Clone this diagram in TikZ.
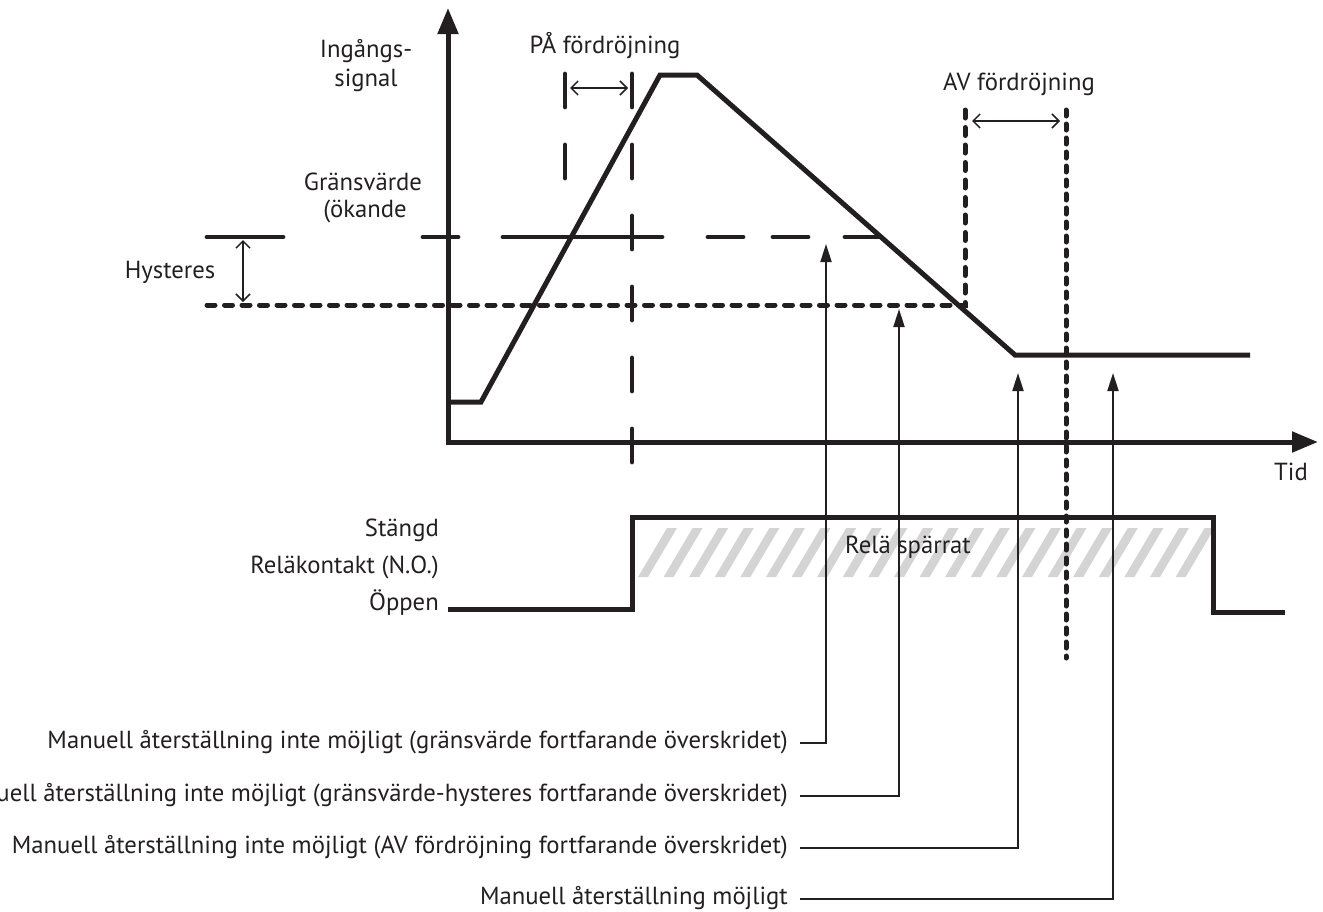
\documentclass[tikz,border=0pt]{standalone}
\usepackage{fontspec}
\setmainfont{PT Sans}
\usetikzlibrary{arrows.meta}
\definecolor{ink}{HTML}{231F20}
\definecolor{hatch}{HTML}{D4D4D4}
\begin{document}
\begin{tikzpicture}[x=1pt,y=-1pt,
  every node/.style={font=\fontsize{24.7}{29}\selectfont, inner sep=0pt, text=ink},
  axisline/.style={draw=ink, line width=5pt, -{Triangle[width=20pt,length=26pt]}},
  sigline/.style={draw=ink, line width=5pt, line join=miter},
  thrline/.style={draw=ink, line width=4.8pt, line cap=round},
  hysline/.style={draw=ink, line width=5pt, line cap=round, dash pattern=on 8pt off 9.5pt},
  avline/.style={draw=ink, line width=5pt, line cap=round, dash pattern=on 6pt off 8pt},
  paline/.style={draw=ink, line width=4.8pt, line cap=round, dash pattern=on 33pt off 38pt},
  dimarrow/.style={draw=ink, line width=1.5pt, {Straight Barb[width=14pt,length=7pt]}-{Straight Barb[width=14pt,length=7pt]}},
  conn/.style={draw=ink, line width=2pt, -{Triangle[width=11pt,length=18pt]}},
  lab/.style={anchor=east, text height=17pt, text depth=6pt},
  stripe/.style={fill=hatch}
]
\useasboundingbox (0,0) rectangle (1323,911);

% hatch of locked relay
\foreach \i in {0,...,21}
  \fill[stripe] ({638+25.6*\i},577) -- ++(10,0) -- ++(29,-49) -- ++(-10,0) -- cycle;

% axes
\draw[axisline] (448,444) -- (448,8);
\draw[axisline] (446,442) -- (1318,442);

% threshold (increasing) line
\draw[thrline] (207,237) -- (283,237);
\draw[thrline] (423,237) -- (458,237);
\draw[thrline] (503,237) -- (662,237);
\draw[thrline] (708,237) -- (743,237);
\draw[thrline] (773,237) -- (808,237);
\draw[thrline] (845,237) -- (880,237);

% hysteresis line and OFF delay
\draw[hysline] (207,305) -- (965,305) -- (965,110);
\draw[avline] (1066,110) -- (1066,658);

% ON delay
\draw[paline] (565,74) -- (565,182);
\draw[paline] (632,74) -- (632,465);

% input signal
\draw[sigline] (448,402) -- (481,402) -- (660,75) -- (697,75) -- (1015,355) -- (1250,355);

% relay contact
\draw[sigline] (448,609) -- (632,609) -- (632,517) -- (1213,517) -- (1213,612) -- (1285,612);

% dimension arrows
\coordinate (pa1) at (570,88);
\coordinate (pa2) at (628,88);
\coordinate (av1) at (972,121);
\coordinate (av2) at (1060,121);
\coordinate (hy1) at (243,240);
\coordinate (hy2) at (243,302);
\draw[dimarrow] (pa1) -- (pa2);
\draw[dimarrow] (av1) -- (av2);
\draw[dimarrow] (hy1) -- (hy2);

% texts
\node[anchor=base] (ing) at (366,57) {Ingångs-};
\node[anchor=base] (sigtxt) at (366,86) {signal};
\node[anchor=base] (gv) at (363,190) {Gränsvärde};
\node[anchor=base] (ok) at (365,217) {(ökande};
\node[anchor=base] (patxt) at (605,53) {PÅ fördröjning};
\node[anchor=base] (avtxt) at (1019,90) {AV fördröjning};
\node[anchor=base] (hys) at (170,278) {Hysteres};
\node[anchor=base] (tid) at (1291,480) {Tid};
\node[anchor=base east] (st) at (439,536) {Stängd};
\node[anchor=base east] (rk) at (439,573) {Reläkontakt (N.O.)};
\node[anchor=base east] (op) at (439,610) {Öppen};
\node[anchor=base] (rs) at (908,553) {Relä spärrat};

% bottom labels
\node[lab] (l1) at (788,743) {Manuell återställning inte möjligt (gränsvärde fortfarande överskridet)};
\node[lab] (l2) at (788,796) {Manuell återställning inte möjligt (gränsvärde-hysteres fortfarande överskridet)};
\node[lab] (l3) at (788,848) {Manuell återställning inte möjligt (AV fördröjning fortfarande överskridet)};
\node[lab] (l4) at (788,899) {Manuell återställning möjligt};

\coordinate (t1) at (826,244);
\coordinate (t2) at (899,309);
\coordinate (t3) at (1018,373);
\coordinate (t4) at (1113,373);
\draw[conn] ([xshift=12pt]l1.east) -| (t1);
\draw[conn] ([xshift=12pt]l2.east) -| (t2);
\draw[conn] ([xshift=12pt]l3.east) -| (t3);
\draw[conn] ([xshift=12pt]l4.east) -| (t4);
\end{tikzpicture}
\end{document}
